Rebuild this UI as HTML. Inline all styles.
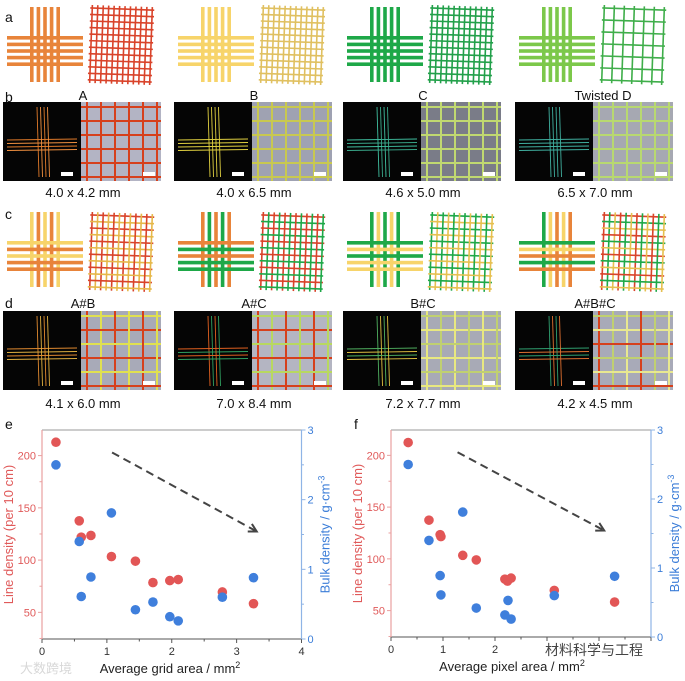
<!DOCTYPE html>
<html><head><meta charset="utf-8"><style>
html,body{margin:0;padding:0;background:#fff}
svg{display:block;font-family:"Liberation Sans","Noto Sans CJK SC",sans-serif}
</style></head><body>
<svg id="fig" width="685" height="681" viewBox="0 0 685 681" xmlns="http://www.w3.org/2000/svg">
<g id="top"></g>
<g id="chartE"></g>
<g id="chartF"></g>
<text x="20" y="673" font-size="13" fill="#d8d8d8">大数跨境</text>
<text x="545" y="655" font-size="14" fill="#444">材料科学与工程</text>
</svg>
<script>
// ---- chart data ----
const eRedX = [0.215,0.574,0.605,0.754,1.07,1.44,1.71,1.97,2.10,2.78,3.26];
const eRedY = [212.8,137.6,122,123.6,103.4,99,78.5,80.4,81.4,69.5,58.3];
const eBlueX = [0.215,0.574,0.605,0.754,1.07,1.44,1.71,1.97,2.10,2.78,3.26];
const eBlueY = [2.50,1.40,0.61,0.89,1.81,0.42,0.53,0.32,0.26,0.60,0.88];
const fRedX = [0.33,0.73,0.945,0.96,1.38,1.64,2.19,2.24,2.31,3.14,4.30];
const fRedY = [212.4,137.4,123.4,121.5,103.4,99,80.4,78.5,81.4,69.5,58.3];
const fBlueX = [0.33,0.73,0.945,0.96,1.38,1.64,2.19,2.25,2.31,3.14,4.30];
const fBlueY = [2.50,1.40,0.89,0.61,1.81,0.42,0.32,0.53,0.26,0.60,0.88];
const leftTicks = [50,100,150,200];
const rightTicks = [0,1,2,3];
const eXTicks = [0,1,2,3,4];
const fXTicks = [0,1,2,3,4,5];
const fXLabels = ["0","1","2","","",""];
const eArrow = [1.08,203,3.31,127.4];
const fArrow = [1.28,203,4.10,127.4];

const NS="http://www.w3.org/2000/svg";
function mk(parent,tag,attrs,text){const e=document.createElementNS(NS,tag);for(const k in attrs)e.setAttribute(k,attrs[k]);if(text!==undefined)e.textContent=text;parent.appendChild(e);return e;}

function chart(g,o){
  const X=v=>o.x0+(v-o.xmin)/(o.xmax-o.xmin)*(o.x1-o.x0);
  const YL=v=>o.yb-(v-24.5)/(224.5-24.5)*(o.yb-o.yt);
  const YR=v=>o.yb-v/3*(o.yb-o.yt);
  let e;
  e=mk(g,'line',{x1:o.x0,y1:o.yt,x2:o.x1,y2:o.yt,stroke:'#999','stroke-width':1});
  
  e=mk(g,'line',{x1:o.x0,y1:o.yb,x2:o.x1,y2:o.yb,stroke:'#555','stroke-width':1});
  
  e=mk(g,'line',{x1:o.x0,y1:o.yt,x2:o.x0,y2:o.yb,stroke:'#eaa0a0','stroke-width':1.2});
  
  e=mk(g,'line',{x1:o.x1,y1:o.yt,x2:o.x1,y2:o.yb,stroke:'#8fb4e6','stroke-width':1.2});
  
  o.xt.forEach((t,i)=>{
    e=mk(g,'line',{x1:X(t),y1:o.yb,x2:X(t),y2:o.yb+4,stroke:'#555'});
    
    if(i<o.xt.length-1){e=mk(g,'line',{x1:X(t+0.5),y1:o.yb,x2:X(t+0.5),y2:o.yb+2.5,stroke:'#555'});
    }
    e=mk(g,'text',{x:X(t),y:o.yb+16,'font-size':11,'text-anchor':'middle',fill:'#333'},o.xl[i]);
    
  });
  leftTicks.forEach(t=>{
    e=mk(g,'line',{x1:o.x0-4,y1:YL(t),x2:o.x0,y2:YL(t),stroke:'#eaa0a0'});
    
    e=mk(g,'line',{x1:o.x0-2.5,y1:YL(t-25),x2:o.x0,y2:YL(t-25),stroke:'#eaa0a0'});
    
    e=mk(g,'text',{x:o.x0-6,y:YL(t)+4,'font-size':11,'text-anchor':'end',fill:'#e05a5a'},String(t));
    
  });
  rightTicks.forEach(t=>{
    e=mk(g,'line',{x1:o.x1,y1:YR(t),x2:o.x1+4,y2:YR(t),stroke:'#8fb4e6'});
    
    if(t<3){e=mk(g,'line',{x1:o.x1,y1:YR(t+0.5),x2:o.x1+2.5,y2:YR(t+0.5),stroke:'#8fb4e6'});
    }
    e=mk(g,'text',{x:o.x1+6,y:YR(t)+4,'font-size':11,fill:'#3b7dd8'},String(t));
    
  });
  const cy=(o.yt+o.yb)/2;
  e=mk(g,'text',{x:0,y:0,'font-size':13,'text-anchor':'middle',fill:'#e05a5a',transform:`translate(${o.x0-29},${cy}) rotate(-90)`},'Line density (per 10 cm)');
  
  e=mk(g,'text',{x:0,y:0,'font-size':13,'text-anchor':'middle',fill:'#3b7dd8',transform:`translate(${o.x1+28},${cy}) rotate(-90)`});
  e.innerHTML='Bulk density / g·cm<tspan dy="-5" font-size="9">-3</tspan>';
  
  e=mk(g,'text',{x:o.tx,y:o.yb+34,'font-size':13,'text-anchor':'middle',fill:'#222'});
  e.innerHTML=o.title+' / mm<tspan dy="-5" font-size="9">2</tspan>';
  
  e=mk(g,'text',{x:o.x0-37,y:o.yt-1,'font-size':14,fill:'#111'},o.letter);
  
  // arrow
  const a=o.arrow,ax1=X(a[0]),ay1=YL(a[1]),ax2=X(a[2]),ay2=YL(a[3]);
  e=mk(g,'line',{x1:ax1,y1:ay1,x2:ax2,y2:ay2,stroke:'#444','stroke-width':2,'stroke-dasharray':'8,5'});
  
  const ang=Math.atan2(ay2-ay1,ax2-ax1),L=9;
  const p=[[ax2-L*Math.cos(ang-0.5),ay2-L*Math.sin(ang-0.5)],[ax2,ay2],[ax2-L*Math.cos(ang+0.5),ay2-L*Math.sin(ang+0.5)]];
  e=mk(g,'polyline',{points:p.map(q=>q.join(',')).join(' '),fill:'none',stroke:'#444','stroke-width':2});
  
  o.rx.forEach((v,i)=>{e=mk(g,'circle',{cx:X(v),cy:YL(o.ry[i]),r:4.8,fill:'#e25656'});
    });
  o.bx.forEach((v,i)=>{e=mk(g,'circle',{cx:X(v),cy:YR(o.by[i]),r:4.8,fill:'#3f7fdc'});
    });
}
chart(document.getElementById('chartE'),{x0:42,x1:301.5,yt:430,yb:639,xmin:0,xmax:4,xt:eXTicks,xl:eXTicks.map(String),tx:170,title:'Average grid area',letter:'e',arrow:eArrow,rx:eRedX,ry:eRedY,bx:eBlueX,by:eBlueY});
chart(document.getElementById('chartF'),{x0:391,x1:651,yt:430,yb:637,xmin:0,xmax:5,xt:fXTicks,xl:fXLabels,tx:512,title:'Average pixel area',letter:'f',arrow:fArrow,rx:fRedX,ry:fRedY,bx:fBlueX,by:fBlueY});

// ---- top panels ----
const T=document.getElementById('top');
const O='#e8843a',Y='#f7d46a',G='#1ea848',LG='#7cc84a',R='#d9432a';
const cols=[3,174,343,515];
function cross(x0,top,vc,hc){
  let e;
  for(let i=0;i<5;i++){
    e=mk(T,'rect',{x:x0+27+i*6.6,y:top+2,width:3.6,height:75,fill:vc[i]});
    
  }
  for(let i=0;i<5;i++){
    e=mk(T,'rect',{x:x0+4,y:top+31+i*6.6,width:76,height:3.6,fill:hc[i]});
    
  }
}
function mesh(x0,top,vc,hc,n){
  let e;n=n||12;const w=60,h=72;
  const g=mk(T,'g',{transform:`rotate(2 ${x0+118} ${top+40})`});
  
  for(let i=0;i<n;i++){
    const y=top+4+i*h/(n-1);
    mk(g,'line',{x1:x0+86,y1:y,x2:x0+150,y2:y,stroke:hc[i%hc.length],'stroke-width':1.6});
    const x=x0+88+i*w/(n-1);
    mk(g,'line',{x1:x,y1:top+1,x2:x,y2:top+79,stroke:vc[i%vc.length],'stroke-width':1.6});
  }
}
function photos(x0,y,lc,bg,mc){
  let e;
  e=mk(T,'rect',{x:x0,y:y,width:78,height:79,fill:'#050505'});
  
  for(let i=0;i<4;i++){
    mk(T,'line',{x1:x0+34+i*3.5,y1:y+5,x2:x0+36+i*3.5,y2:y+75,stroke:lc[i%lc.length],'stroke-width':0.9});
    mk(T,'line',{x1:x0+4,y1:y+38+i*3.5,x2:x0+74,y2:y+37+i*3.5,stroke:lc[i%lc.length],'stroke-width':0.9});
  }
  mk(T,'rect',{x:x0+58,y:y+70,width:12,height:4,fill:'#fff'});
  e=mk(T,'rect',{x:x0+78,y:y,width:80,height:79,fill:bg});
  
  for(let i=0;i<6;i++){
    mk(T,'line',{x1:x0+84+i*14,y1:y,x2:x0+84+i*14,y2:y+79,stroke:mc[i%mc.length],'stroke-width':2});
    mk(T,'line',{x1:x0+78,y1:y+5+i*14,x2:x0+158,y2:y+5+i*14,stroke:mc[(i+1)%mc.length],'stroke-width':2});
  }
  mk(T,'rect',{x:x0+140,y:y+70,width:12,height:4,fill:'#fff'});
}
function txt(x,y,s,size,name,anchor){const e=mk(T,'text',{x:x,y:y,'font-size':size,'text-anchor':anchor||'middle',fill:'#111'},s);
  }
// row a
const aV=[[O],[Y],[G],[LG]];
cols.forEach((x,i)=>{const c=aV[i][0];cross(x,5,[c,c,c,c,c],[c,c,c,c,c]);});
mesh(cols[0],5,[R],[R]);mesh(cols[1],5,['#e0c060'],['#e0c060']);mesh(cols[2],5,['#22a04a'],['#22a04a']);mesh(cols[3],5,['#3fae4a'],['#3fae4a'],7);
// row c
cross(cols[0],210,[Y,O,Y,O,Y],[Y,O,Y,O,O]);
cross(cols[1],210,[O,G,O,G,O],[O,G,O,G,G]);
cross(cols[2],210,[G,Y,G,Y,G],[G,Y,G,Y,Y]);
cross(cols[3],210,[G,Y,O,Y,O],[G,Y,O,G,O]);
mesh(cols[0],212,[R,'#e6b84a'],[R,'#e6b84a']);mesh(cols[1],212,[R,G],[R,G]);mesh(cols[2],212,[G,'#e6c050'],[G,'#e6c050']);mesh(cols[3],212,[R,G,'#e6c050'],[R,G,'#e6c050']);
// photos
photos(cols[0],102,['#e07a2a','#f09040'],'#b3b4c4',['#d6401c']);
photos(cols[1],102,['#e0d040'],'#9fa2b2',['#c8c850']);
photos(cols[2],102,['#40c0a0','#3aa88a'],'#7a7c88',['#c0d870']);
photos(cols[3],102,['#40b0a0'],'#a6a8b2',['#b8d870']);
photos(cols[0],311,['#e08a30','#e0b040'],'#a8aab8',['#d6401c','#e0e050']);
photos(cols[1],311,['#e06020','#30a060'],'#b4b5c2',['#d6401c','#b8d860']);
photos(cols[2],311,['#50b060','#e0c040'],'#a8aab6',['#e8e880','#c0d070']);
photos(cols[3],311,['#30a070','#e07030'],'#a8aab8',['#d6401c','#c0d070','#e8e890']);
// labels
txt(5,22,'a',14,'panel-letter-a','start');txt(5,102,'b',14,'panel-letter-b','start');
txt(5,219,'c',14,'panel-letter-c','start');txt(5,308,'d',14,'panel-letter-d','start');
['A','B','C','Twisted D'].forEach((s,i)=>txt(cols[i]+80+(i==3?8:0),100,s,13,'sample-label'));
['A#B','A#C','B#C','A#B#C'].forEach((s,i)=>txt(cols[i]+80,308,s,13,'sample-label'));
['4.0 x 4.2 mm','4.0 x 6.5 mm','4.6 x 5.0 mm','6.5 x 7.0 mm'].forEach((s,i)=>txt(cols[i]+80,197,s,13,'grid-size-caption'));
['4.1 x 6.0 mm','7.0 x 8.4 mm','7.2 x 7.7 mm','4.2 x 4.5 mm'].forEach((s,i)=>txt(cols[i]+80,408,s,13,'grid-size-caption'));
</script>
</body></html>
